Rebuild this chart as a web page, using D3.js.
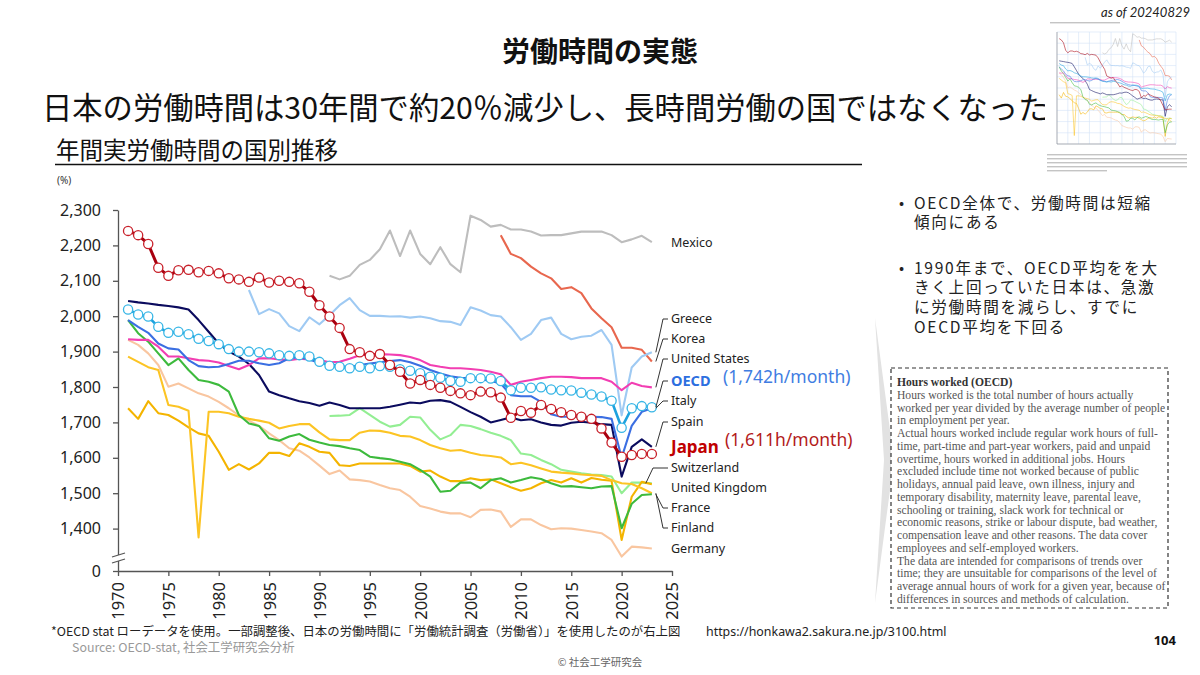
<!DOCTYPE html>
<html lang="ja">
<head>
<meta charset="UTF-8">
<title>年間実労働時間の国別推移</title>
<script src="https://cdn.jsdelivr.net/npm/d3@7"></script>
<style>
    body { margin: 0; background: #fff; }
    svg { font-family: "Noto Sans CJK JP", "Noto Sans", sans-serif; }
</style>
</head>
<body>
<script>

    // 年間実労働時間（時間/年）、グラフから読み取った値
    var japan = [2241, 2229, 2204, 2137, 2114, 2130, 2131, 2124, 2128, 2121,
                 2107, 2104, 2097, 2109, 2095, 2100, 2097, 2093, 2069, 2031,
                 1999, 1967, 1907, 1898, 1888, 1893, 1862, 1843, 1810, 1820,
                 1806, 1798, 1789, 1782, 1777, 1787, 1785, 1770, 1713, 1732,
                 1727, 1749, 1738, 1729, 1721, 1716, 1710, 1683, 1643, 1603,
                 1608, 1611, 1611];                                  // 1971-2023
    var oecd = [2019, 2005, 1999, 1970, 1953, 1956, 1949, 1936, 1930, 1921,
                1907, 1900, 1900, 1898, 1895, 1890, 1888, 1890, 1886, 1871,
                1860, 1857, 1853, 1857, 1853, 1859, 1857, 1850, 1846, 1839,
                1829, 1826, 1817, 1815, 1825, 1825, 1824, 1817, 1791, 1798,
                1798, 1799, 1793, 1791, 1790, 1784, 1779, 1773, 1761, 1685,
                1740, 1746, 1743];                                   // 1971-2023
    var italy = [1989, 1970, 1953, 1923, 1909, 1906, 1876, 1859, 1856, 1857,
                 1865, 1874, 1874, 1867, 1862, 1867, 1881, 1884, 1878, 1868,
                 1864, 1860, 1856, 1862, 1866, 1870, 1873, 1876, 1870, 1860,
                 1848, 1838, 1830, 1826, 1825, 1822, 1817, 1810, 1777, 1774,
                 1774, 1758, 1723, 1716, 1716, 1716, 1716, 1715, 1710, 1600,
                 1690, 1730, 1740];                                  // 1971-2023
    var spain = [2043, 2039, 2036, 2032, 2029, 2025, 2019, 1989, 1956, 1923,
                 1900, 1886, 1865, 1834, 1787, 1777, 1768, 1760, 1755, 1747,
                 1756, 1749, 1740, 1740, 1740, 1740, 1744, 1750, 1756, 1754,
                 1761, 1763, 1758, 1744, 1729, 1716, 1700, 1707, 1714, 1706,
                 1709, 1700, 1693, 1691, 1699, 1702, 1699, 1695, 1693, 1547,
                 1631, 1652, 1631];                                  // 1971-2023
    var usa = [1935, 1933, 1933, 1914, 1886, 1886, 1881, 1876, 1874, 1869,
               1859, 1850, 1862, 1881, 1881, 1878, 1876, 1880, 1878, 1876,
               1870, 1871, 1880, 1890, 1892, 1893, 1892, 1890, 1885, 1876,
               1862, 1857, 1853, 1853, 1851, 1848, 1843, 1836, 1806, 1815,
               1820, 1825, 1829, 1829, 1828, 1825, 1825, 1825, 1815, 1791,
               1812, 1803, 1799];                                    // 1971-2023
    var greece = [2074, 2006, 2020, 2008, 1972, 1958, 1997, 1977,
                  2003, 2031, 2051, 2017, 2001, 2001, 1999, 2000, 1996, 1999,
                  1994, 1986, 1984, 1975, 2025, 2016, 2003, 1999, 1969, 1933,
                  1950, 1989, 1996, 1950, 1935, 1942, 1945, 1961, 1919, 1720,
                  1855, 1886, 1898];                                 // 1983-2023
    var mexico = [2114, 2104, 2114, 2145, 2159, 2189, 2242, 2170, 2242, 2176,
                  2147, 2195, 2147, 2124, 2284, 2272, 2253, 2258, 2245, 2245,
                  2239, 2228, 2229, 2229, 2234, 2239, 2239, 2239, 2229, 2209,
                  2217, 2227, 2209];                                 // 1991-2023
    var korea = [2229, 2176, 2164, 2140, 2121, 2107, 2077, 2082, 2065, 2022,
                 1994, 1969, 1911, 1911, 1905, 1872];                 // 2008-2023
    var switzerland = [1718, 1719, 1721, 1740, 1721, 1702, 1688, 1693, 1716, 1714,
                       1679, 1652, 1664, 1693, 1690, 1681, 1671, 1662, 1650, 1612,
                       1608, 1594, 1582, 1566, 1561, 1556, 1553, 1551, 1547, 1500,
                       1530, 1530, 1528];                            // 1991-2023
    var france = [1989, 1952, 1928, 1895, 1862, 1881, 1848, 1820, 1815, 1806,
                  1787, 1721, 1697, 1690, 1655, 1648, 1660, 1667, 1651, 1643,
                  1636, 1633, 1627, 1622, 1603, 1599, 1596, 1589, 1582, 1566,
                  1547, 1504, 1507, 1530, 1530, 1514, 1537, 1542, 1530, 1537,
                  1545, 1540, 1528, 1519, 1520, 1517, 1514, 1519, 1520, 1401,
                  1470, 1495, 1497];                                 // 1971-2023
    var germany = [1933, 1919, 1895, 1862, 1801, 1810, 1796, 1782, 1773, 1758,
                   1740, 1720, 1705, 1690, 1669, 1650, 1627, 1620, 1601, 1578,
                   1554, 1564, 1539, 1537, 1533, 1523, 1514, 1509, 1490, 1464,
                   1457, 1448, 1443, 1443, 1432, 1453, 1454, 1448, 1405, 1426,
                   1426, 1410, 1398, 1401, 1400, 1396, 1392, 1387, 1368, 1321,
                   1349, 1347, 1344];                                // 1971-2023
    var uk = [1740, 1710, 1760, 1726, 1721, 1705, 1686, 1669, 1662, 1617,
              1566, 1582, 1567, 1584, 1614, 1614, 1605, 1641, 1631, 1617,
              1614, 1579, 1577, 1584, 1584, 1584, 1584, 1584, 1577, 1561,
              1564, 1547, 1534, 1534, 1542, 1537, 1539, 1528, 1517, 1507,
              1514, 1528, 1537, 1530, 1542, 1530, 1543, 1538, 1535, 1368,
              1490, 1532, 1525];                                     // 1971-2023
    var finland = [1886, 1871, 1856, 1848, 1749, 1744, 1733, 1375, 1730, 1730,
                   1726, 1716, 1710, 1705, 1699, 1683, 1690, 1695, 1695, 1672,
                   1652, 1650, 1650, 1671, 1677, 1676, 1671, 1662, 1660, 1650,
                   1636, 1627, 1620, 1622, 1614, 1608, 1605, 1601, 1582, 1586,
                   1579, 1570, 1561, 1558, 1556, 1553, 1551, 1549, 1537, 1528,
                   1526, 1514, 1500];                                // 1971-2023

    var yTicks = [0, 1400, 1500, 1600, 1700, 1800, 1900, 2000, 2100, 2200, 2300];
    var xTicks = [1970, 1975, 1980, 1985, 1990, 1995, 2000, 2005, 2010, 2015, 2020, 2025];

    // 描画順（後ろほど上に重なる）
    var seriesList = [
        {name: "Mexico",         start: 1991, values: mexico,      color: "#bdbdbd"},
        {name: "Korea",          start: 2008, values: korea,       color: "#e8674e"},
        {name: "Greece",         start: 1983, values: greece,      color: "#9fcaf3"},
        {name: "Germany",        start: 1971, values: germany,     color: "#f9c6a0"},
        {name: "Switzerland",    start: 1991, values: switzerland, color: "#93ee93"},
        {name: "United Kingdom", start: 1971, values: uk,          color: "#f4b400"},
        {name: "Finland",        start: 1971, values: finland,     color: "#fcc424"},
        {name: "France",         start: 1971, values: france,      color: "#3dba3d"},
        {name: "Spain",          start: 1971, values: spain,       color: "#0b0b5e"},
        {name: "United States",  start: 1971, values: usa,         color: "#f23eb2"},
        {name: "Italy",          start: 1971, values: italy,       color: "#3b6fe2"},
        {name: "OECD",           start: 1971, values: oecd,        color: "#1da2de", ring: "#38b6e6"},
        {name: "Japan",          start: 1971, values: japan,       color: "#a8000f", ring: "#c8202a"}
    ];

    function toPoints(s){
        return s.values.map(function (v, i){
            return {year: s.start + i, value: v};
        });
    }

    var latin = "'Noto Sans', sans-serif";

    var svg = d3.select("body").append("svg")
                .attr("width", 1200)
                .attr("height", 675);
    svg.append("rect").attr("width", 1200).attr("height", 675).attr("fill", "#fff");

    //タイトル
    svg.append("text").attr("x", 600).attr("y", 62).attr("text-anchor", "middle")
        .attr("font-size", "28px").attr("font-weight", "bold").attr("fill", "#111")
        .text("労働時間の実態");
    svg.append("text").attr("x", 42).attr("y", 119)
        .attr("font-size", "30.3px").attr("fill", "#111")
        .text("日本の労働時間は30年間で約20％減少し、長時間労働の国ではなくなった");
    svg.append("text").attr("x", 56).attr("y", 159)
        .attr("font-size", "23.5px").attr("fill", "#111")
        .text("年間実労働時間の国別推移");
    svg.append("line").attr("x1", 55).attr("x2", 862).attr("y1", 164.5).attr("y2", 164.5)
        .attr("stroke", "#111").attr("stroke-width", 1.6);
    svg.append("text").attr("x", 1190).attr("y", 17).attr("text-anchor", "end")
        .attr("font-size", "13px").attr("font-style", "italic").attr("fill", "#222")
        .attr("font-family", "Lato, 'Noto Sans', sans-serif")
        .text("as of 20240829");
    svg.append("text").attr("x", 57).attr("y", 184)
        .attr("font-size", "10px").attr("fill", "#333").attr("font-family", latin)
        .text("(%)");

    //スケール（0〜1300は省略）
    var x = d3.scaleLinear().domain([1970, 2025]).range([118, 672]);
    var y = d3.scaleLinear().domain([0, 1300, 2300]).range([571, 564, 210]);

    //軸
    var axisY = d3.axisLeft(y).tickValues(yTicks).tickSize(5).tickSizeOuter(0).tickPadding(12)
                  .tickFormat(d3.format(","));
    var gy = svg.append("g").attr("transform", "translate(118,0)").call(axisY);
    gy.selectAll("text").attr("font-size", "16px").attr("fill", "#222")
        .attr("font-family", latin);
    gy.selectAll("line, path").attr("stroke", "#555").attr("stroke-width", 1.3);

    var axisX = d3.axisBottom(x).tickValues(xTicks).tickSize(5).tickSizeOuter(0)
                  .tickFormat(d3.format("d"));
    var gx = svg.append("g").attr("transform", "translate(0,571)").call(axisX);
    gx.selectAll("line, path").attr("stroke", "#555").attr("stroke-width", 1.3);
    gx.selectAll("text")
        .attr("font-size", "16.5px").attr("fill", "#222")
        .attr("font-family", latin)
        .attr("transform", "rotate(-90)")
        .attr("text-anchor", "end")
        .attr("x", -11).attr("y", 0).attr("dy", "0.36em");

    //軸の省略記号
    svg.append("rect").attr("x", 114).attr("y", 555).attr("width", 8).attr("height", 6).attr("fill", "#fff");
    svg.append("line").attr("x1", 112).attr("x2", 125).attr("y1", 557).attr("y2", 553)
        .attr("stroke", "#555").attr("stroke-width", 1.2);
    svg.append("line").attr("x1", 112).attr("x2", 125).attr("y1", 563).attr("y2", 559)
        .attr("stroke", "#555").attr("stroke-width", 1.2);

    //折れ線
    var line = d3.line()
                 .x(function (d){ return x(d.year); })
                 .y(function (d){ return y(d.value); });

    seriesList.forEach(function (s){
        var pts = toPoints(s);
        svg.append("path")
            .datum(pts)
            .attr("fill", "none")
            .attr("stroke", s.color)
            .attr("stroke-width", s.name === "Japan" ? 3 : (s.name === "OECD" ? 2.6 : 2.1))
            .attr("stroke-linejoin", "round")
            .attr("d", line);
        if (s.ring){
            svg.selectAll(null)
                .data(pts)
                .enter()
                .append("circle")
                .attr("cx", function (d){ return x(d.year); })
                .attr("cy", function (d){ return y(d.value); })
                .attr("r", 4.6)
                .attr("fill", "#fff")
                .attr("stroke", s.ring)
                .attr("stroke-width", 1.3);
        }
    });

    //系列ラベル
    var labelLayout = [
        {name: "Mexico",         y: 243, link: false},
        {name: "Greece",         y: 319, link: true},
        {name: "Korea",          y: 339, link: true},
        {name: "United States",  y: 359, link: true},
        {name: "OECD",           y: 381, link: true},
        {name: "Italy",          y: 401, link: true},
        {name: "Spain",          y: 422, link: true},
        {name: "Japan",          y: 447, link: false},
        {name: "Switzerland",    y: 468, link: true, endYear: 2022.4, stub: 653},
        {name: "United Kingdom", y: 488, link: false},
        {name: "France",         y: 508, link: true},
        {name: "Finland",        y: 528, link: true},
        {name: "Germany",        y: 549, link: false}
    ];
    var byName = {};
    seriesList.forEach(function (s){ byName[s.name] = s; });

    labelLayout.forEach(function (l){
        var s = byName[l.name];
        if (l.link){
            var last = s.values[s.values.length - 1];
            var ex = l.endYear ? x(l.endYear) : x(2023) + 4;
            svg.append("path")
                .attr("d", d3.line()([[668, l.y], [l.stub || 663, l.y], [ex, y(last)]]))
                .attr("fill", "none").attr("stroke", "#333").attr("stroke-width", 1);
        }
        var t = svg.append("text").attr("x", 671).attr("y", l.y).attr("dy", "0.35em")
                   .attr("font-family", latin)
                   .attr("font-size", "12.5px").attr("fill", "#222").text(l.name);
        if (l.name === "OECD"){
            t.attr("font-size", "14.5px").attr("font-weight", "bold").attr("fill", "#2d6fe0");
        }
        if (l.name === "Japan"){
            t.attr("font-size", "17px").attr("font-weight", "bold").attr("fill", "#c00000");
        }
    });
    svg.append("text").attr("x", 723).attr("y", 377).attr("dy", "0.35em")
        .attr("font-family", latin).attr("font-size", "17.5px").attr("fill", "#3f7de2")
        .text("(1,742h/month)");
    svg.append("text").attr("x", 725).attr("y", 440).attr("dy", "0.35em")
        .attr("font-family", latin).attr("font-size", "17.5px").attr("fill", "#b31b1b")
        .text("(1,611h/month)");

    //右側のコメント
    var bullets = [
        ["OECD全体で、労働時間は短縮", "傾向にある"],
        ["1990年まで、OECD平均をを大", "きく上回っていた日本は、急激", "に労働時間を減らし、すでに", "OECD平均を下回る"]
    ];
    var bulletTop = [203, 268];
    bullets.forEach(function (lines, k){
        svg.append("text").attr("x", 899).attr("y", bulletTop[k]).attr("dy", "0.36em")
            .attr("font-size", "15px").attr("fill", "#222").text("•");
        lines.forEach(function (txt, j){
            svg.append("text").attr("x", 914).attr("y", bulletTop[k] + j * 19.8).attr("dy", "0.36em")
                .attr("font-size", "15.6px").attr("letter-spacing", "1.7px").attr("fill", "#222").text(txt);
        });
    });

    //矢印
    svg.append("polygon")
        .attr("points", "875,318 894,460 875,603 884,460")
        .attr("fill", "#e2e2e2");

    //OECD定義の枠
    svg.append("rect").attr("x", 891).attr("y", 368).attr("width", 277).attr("height", 240)
        .attr("fill", "#fff").attr("stroke", "#333").attr("stroke-width", 1.2)
        .attr("stroke-dasharray", "4,3");
    var defLines = [
        "Hours worked is the total number of hours actually",
        "worked per year divided by the average number of people",
        "in employment per year.",
        "Actual hours worked include regular work hours of full-",
        "time, part-time and part-year workers, paid and unpaid",
        "overtime, hours worked in additional jobs. Hours",
        "excluded include time not worked because of public",
        "holidays, annual paid leave, own illness, injury and",
        "temporary disability, maternity leave, parental leave,",
        "schooling or training, slack work for technical or",
        "economic reasons, strike or labour dispute, bad weather,",
        "compensation leave and other reasons. The data cover",
        "employees and self-employed workers.",
        "The data are intended for comparisons of trends over",
        "time; they are unsuitable for comparisons of the level of",
        "average annual hours of work for a given year, because of",
        "differences in sources and methods of calculation."
    ];
    var serif = "'Liberation Serif', 'DejaVu Serif', serif";
    svg.append("text").attr("x", 897).attr("y", 386)
        .attr("font-family", serif).attr("font-size", "11.6px")
        .attr("font-weight", "bold").attr("fill", "#333")
        .text("Hours worked (OECD)");
    defLines.forEach(function (txt, i){
        svg.append("text").attr("x", 897).attr("y", 386 + (i + 1) * 12.76)
            .attr("font-family", serif).attr("font-size", "11.6px")
            .attr("fill", "#555").text(txt);
    });

    //右上の小さい図
    var thumb = svg.append("g");
    thumb.append("rect").attr("x", 1045).attr("y", 20).attr("width", 146).attr("height", 158)
        .attr("fill", "#fff");
    var xm = d3.scaleLinear().domain([1970, 2025]).range([1057, 1176]);
    var ym = d3.scaleLinear().domain([1300, 2300]).range([144, 32]);
    thumb.selectAll(null).data(d3.range(1970, 2026, 5)).enter().append("line")
        .attr("x1", function (d){ return xm(d); }).attr("x2", function (d){ return xm(d); })
        .attr("y1", 32).attr("y2", 144).attr("stroke", "#d3e3f6").attr("stroke-width", 0.6);
    thumb.selectAll(null).data(d3.range(1300, 2301, 100)).enter().append("line")
        .attr("x1", 1057).attr("x2", 1176)
        .attr("y1", function (d){ return ym(d); }).attr("y2", function (d){ return ym(d); })
        .attr("stroke", "#d3e3f6").attr("stroke-width", 0.6);
    thumb.append("path").attr("d", "M1057,32V144H1176").attr("fill", "none")
        .attr("stroke", "#888").attr("stroke-width", 0.6);
    var lineM = d3.line().x(function (d){ return xm(d.year); }).y(function (d){ return ym(d.value); });
    seriesList.forEach(function (s){
        thumb.append("path").datum(toPoints(s)).attr("d", lineM)
            .attr("fill", "none").attr("stroke", s.color).attr("stroke-width", 0.8).attr("opacity", 0.7);
    });
    [22, 154, 158, 162, 166, 170].forEach(function (ty, i){
        thumb.append("rect").attr("x", i === 0 ? 1050 : 1047).attr("y", ty)
            .attr("width", i === 0 ? 70 : (i === 5 ? 60 : 140)).attr("height", 1.4)
            .attr("fill", "#c4c4c4");
    });

    //注記
    svg.append("text").attr("x", 51).attr("y", 636)
        .attr("font-size", "12.4px").attr("fill", "#222")
        .text("*OECD stat ローデータを使用。一部調整後、日本の労働時間に「労働統計調査（労働省）」を使用したのが右上図");
    svg.append("text").attr("x", 706).attr("y", 636)
        .attr("font-size", "12.4px").attr("fill", "#222").attr("font-family", latin)
        .text("https://honkawa2.sakura.ne.jp/3100.html");
    svg.append("text").attr("x", 72).attr("y", 652)
        .attr("font-size", "12.4px").attr("fill", "#999")
        .text("Source: OECD-stat, 社会工学研究会分析");
    svg.append("text").attr("x", 600).attr("y", 666).attr("text-anchor", "middle")
        .attr("font-size", "10.5px").attr("fill", "#666")
        .text("© 社会工学研究会");
    svg.append("text").attr("x", 1176).attr("y", 645).attr("text-anchor", "end")
        .attr("font-size", "13px").attr("font-weight", "bold").attr("fill", "#111")
        .attr("font-family", latin)
        .text("104");
</script>
</body>
</html>
